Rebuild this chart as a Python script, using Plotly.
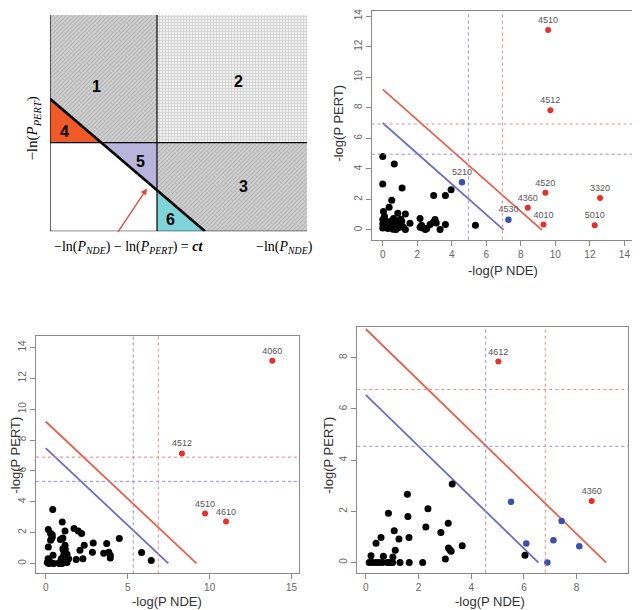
import plotly.graph_objects as go

# The page body has an 8px default margin, so the figure is drawn 8px smaller
# and all reference pixel positions are shifted by that offset.
OFF = 8
W, H = 640 - OFF, 610 - OFF

# ---------------- Panel B (top right) data ----------------
b_black_x = [0.0, 0.67, 0.0, 1.12, 0.52, 2.95, 3.63, 3.96, 0.37, 0.04, 0.87, 1.31,
             0.0, 0.0, 0.0, 0.23, 0.42, 0.62, 0.71, 0.77, 1.0, 1.2, 1.31, 1.58,
             2.16, 2.16, 2.32, 2.47, 2.74, 2.93, 3.03, 3.32, 3.63, 5.37,
             0.1, 0.05, 0.3, 0.55, 0.85, 0.95, 1.1, 0.6, 0.15, 2.25, 2.55, 3.1, 0.9, 1.05]
b_black_y = [4.81, 4.31, 3.0, 2.74, 1.94, 2.26, 2.26, 2.63, 1.48, 1.2, 1.09, 1.04,
             0.68, 0.39, 0.13, 0.45, 0.55, 0.74, 0.39, 0.02, 0.45, 0.18, 0.02, 0.43,
             0.74, 0.18, 0.13, 0.02, 0.35, 0.5, 0.68, 0.02, 0.35, 0.3,
             0.9, 0.25, 0.1, 0.2, 0.6, 0.3, 0.55, 0.05, 0.6, 0.3, 0.1, 0.45, 0.15, 0.7]
b_blue_x = [4.59, 7.28]
b_blue_y = [3.13, 0.67]
b_blue_lab = ["5210", "4530"]
b_red_x = [9.58, 9.71, 9.42, 8.40, 9.31, 12.59, 12.28]
b_red_y = [13.09, 7.83, 2.43, 1.46, 0.35, 2.09, 0.30]
b_red_lab = ["4510", "4512", "4520", "4360", "4010", "3320", "5010"]
b_vthr = {"blue": 4.96, "red": 6.93}
b_hthr = {"blue": 4.96, "red": 6.94}
b_diag = {"blue": 7.0, "red": 9.21}
b_xticks = [0, 2, 4, 6, 8, 10, 12, 14]
b_yticks = [0, 2, 4, 6, 8, 10, 12, 14]

# ---------------- Panel C (bottom left) data ----------------
c_black_x = [0.43, 1.01, 0.16, 1.73, 1.18, 1.99, 2.19, 0.30, 0.35, 0.30, 0.40,
             1.00, 0.90, 1.05, 4.49, 2.90, 3.72, 2.35, 1.18, 0.16, 2.09, 1.10,
             0.45, 2.85, 2.27, 1.86, 3.85, 3.94, 3.94, 3.54, 1.10, 1.30, 1.40,
             5.85, 6.44, 0.10, 0.20, 0.35, 0.50, 0.80, 1.00, 1.10, 1.30,
             0.25, 0.95, 1.20, 0.15, 0.40, 1.05, 0.85]
c_black_y = [3.49, 2.69, 2.19, 2.26, 2.10, 2.10, 1.94, 1.94, 1.60, 1.50, 1.70,
             1.60, 1.55, 1.65, 1.61, 1.33, 1.29, 1.18, 1.18, 1.07, 0.86, 0.82,
             0.52, 0.73, 0.30, 0.26, 0.73, 0.52, 0.35, 0.65, 0.52, 0.60, 0.30,
             0.71, 0.19, 0.05, 0.0, 0.02, 0.0, 0.03, 0.0, 0.08, 0.05,
             0.1, 0.3, 0.9, 0.3, 1.85, 0.95, 0.0]
c_red_x = [13.82, 8.31, 9.72, 11.0]
c_red_y = [13.14, 7.13, 3.23, 2.71]
c_red_lab = ["4060", "4512", "4510", "4610"]
c_vthr = {"blue": 5.34, "red": 6.87}
c_hthr = {"blue": 5.32, "red": 6.89}
c_diag = {"blue": 7.48, "red": 9.2}
c_xticks = [0, 5, 10, 15]
c_yticks = [0, 2, 4, 6, 8, 10, 12, 14]

# ---------------- Panel D (bottom right) data ----------------
d_black_x = [6.04, 3.28, 1.58, 2.36, 0.86, 1.60, 3.13, 2.28, 1.08, 2.85, 0.58,
             1.26, 1.64, 0.39, 3.66, 3.14, 3.19, 3.24, 1.12, 0.20, 0.67, 1.03,
             3.02, 0.13, 0.25, 0.38, 0.50, 0.63, 0.82, 0.92, 1.02, 1.30, 1.65, 2.16]
d_black_y = [0.29, 3.07, 2.67, 2.10, 1.93, 1.80, 1.54, 1.39, 1.24, 1.17, 0.98,
             0.92, 0.98, 0.75, 0.66, 0.57, 0.50, 0.44, 0.48, 0.27, 0.25, 0.22,
             0.14, 0.0, 0.0, 0.0, 0.0, 0.0, 0.0, 0.0, 0.0, 0.0, 0.0, 0.0]
d_blue_x = [5.51, 6.09, 6.89, 7.12, 7.43, 8.10]
d_blue_y = [2.37, 0.74, 0.0, 0.87, 1.62, 0.64]
d_red_x = [5.03, 8.57]
d_red_y = [7.85, 2.40]
d_red_lab = ["4612", "4360"]
d_vthr = {"blue": 4.55, "red": 6.81}
d_hthr = {"blue": 4.54, "red": 6.76}
d_diag = {"blue": 6.55, "red": 9.12}
d_xticks = [0, 2, 4, 6, 8]
d_yticks = [0, 2, 4, 6, 8]

# ---------------- Panel A (schematic) ----------------
# diagram units: box 0..257 wide, 0..217 high
a_vline = 107
a_hline = 89
a_diag_y0 = 133
a_diag_x0 = 155
a_cross_h = a_diag_x0 * (1 - a_hline / a_diag_y0)      # diag meets horizontal line
a_cross_v = a_diag_y0 * (1 - a_vline / a_diag_x0)      # diag meets vertical line
a_W, a_H = 257, 217

RED = "#e8302a"
BLUE = "#3b4fb0"
LRED = "#e8604c"
LBLUE = "#6c6cc8"
DRED = "#e88a84"
DBLUE = "#8f8fd8"
GRAY = "#8a8a8a"
FONT = "Liberation Sans"

fig = go.Figure()


def px(x):
    return (x - OFF) / W


def py(y):
    return 1 - (y - OFF) / H


def dom(px0, px1, py0, py1):
    return [px(px0), px(px1)], [py(py1), py(py0)]


panels = {
    "2": dict(px=(371.7, 635.3), py=(5, 238.3), xr=[-0.64, 14.63], yr=[-0.63, 14.6],
              xt=b_xticks, yt=b_yticks),
    "3": dict(px=(36, 299), py=(335, 573.3), xr=[-0.59, 15.45], yr=[-0.65, 14.75],
              xt=c_xticks, yt=c_yticks),
    "4": dict(px=(357.3, 628.3), py=(326, 572.7), xr=[-0.32, 9.96], yr=[-0.40, 9.2],
              xt=d_xticks, yt=d_yticks),
}

layout_axes = {}
for k, p in panels.items():
    y0px, y1px = p["py"][0], p["py"][1]
    yr = list(p["yr"])
    if y0px < OFF + 1:
        scale = (yr[1] - yr[0]) / (y1px - y0px)
        yr[1] = yr[1] - (OFF + 1 - y0px) * scale
        y0px = OFF + 1
    xd, yd = dom(p["px"][0], p["px"][1], y0px, y1px)
    xd = [max(0, xd[0]), min(1, xd[1])]
    common = dict(showgrid=False, zeroline=False, showline=True, linecolor=GRAY,
                  linewidth=1, mirror=True, ticks="outside", ticklen=5, tickcolor=GRAY,
                  ticklabeloverflow="allow",
                  tickfont=dict(family=FONT, size=10, color="#666"))
    layout_axes["xaxis" + k] = dict(domain=xd, range=p["xr"], anchor="y" + k,
                                    tickvals=p["xt"], **common)
    layout_axes["yaxis" + k] = dict(domain=yd, range=yr, anchor="x" + k,
                                    tickvals=p["yt"], tickangle=-90, **common)

shapes = []


def add_panel(k, blk, blue, red, vthr, hthr, diag):
    xa, ya = "x" + k, "y" + k
    # dashed threshold lines
    for col, c in (("blue", DBLUE), ("red", DRED)):
        shapes.append(dict(type="line", xref=xa, yref=ya + " domain", x0=vthr[col], x1=vthr[col],
                           y0=0, y1=1, line=dict(color=c, width=1, dash="dot")))
        shapes.append(dict(type="line", xref=xa + " domain", yref=ya, x0=0, x1=1,
                           y0=hthr[col], y1=hthr[col], line=dict(color=c, width=1, dash="dot")))
    # diagonals
    for col, c in (("blue", LBLUE), ("red", LRED)):
        fig.add_trace(go.Scatter(x=[0, diag[col]], y=[diag[col], 0], mode="lines",
                                 line=dict(color=c, width=1.8), xaxis=xa, yaxis=ya,
                                 hoverinfo="skip"))
    fig.add_trace(go.Scatter(x=blk[0], y=blk[1], mode="markers",
                             marker=dict(color="black", size=7), xaxis=xa, yaxis=ya))
    if blue is not None:
        fig.add_trace(go.Scatter(x=blue[0], y=blue[1], mode="markers+text" if blue[2] else "markers",
                                 text=blue[2], textposition="top center",
                                 textfont=dict(family=FONT, size=9, color="#555"),
                                 marker=dict(color=BLUE, size=6.5), xaxis=xa, yaxis=ya))
    fig.add_trace(go.Scatter(x=red[0], y=red[1], mode="markers+text", text=red[2],
                             textposition="top center",
                             textfont=dict(family=FONT, size=9, color="#555"),
                             marker=dict(color=RED, size=6), xaxis=xa, yaxis=ya))


add_panel("2", (b_black_x, b_black_y), (b_blue_x, b_blue_y, b_blue_lab),
          (b_red_x, b_red_y, b_red_lab), b_vthr, b_hthr, b_diag)
add_panel("3", (c_black_x, c_black_y), None,
          (c_red_x, c_red_y, c_red_lab), c_vthr, c_hthr, c_diag)
add_panel("4", (d_black_x, d_black_y), (d_blue_x, d_blue_y, None),
          (d_red_x, d_red_y, d_red_lab), d_vthr, d_hthr, d_diag)

# ---------------- schematic panel ----------------
hatch = dict(shape="/", fgcolor="#8a8a8a", bgcolor="#d0d0d0", size=3, solidity=0.3)
grid = dict(shape="+", fgcolor="#a8a8a8", bgcolor="#f0f0f0", size=3, solidity=0.4)
regions = [
    ([0, 0, a_vline, a_vline, a_cross_h], [a_diag_y0, a_H, a_H, a_hline, a_hline], hatch, None),
    ([a_vline, a_vline, a_W, a_W], [a_hline, a_H, a_H, a_hline], grid, None),
    ([a_vline, a_W, a_W, a_diag_x0, a_vline], [a_hline, a_hline, 0, 0, a_cross_v], hatch, None),
    ([0, 0, a_cross_h], [a_hline, a_diag_y0, a_hline], None, "#f05a28"),
    ([a_cross_h, a_vline, a_vline], [a_hline, a_hline, a_cross_v], None, "#b8b4dc"),
    ([a_vline, a_vline, a_diag_x0], [0, a_cross_v, 0], None, "#7ed4d8"),
]
for xs, ys, pat, col in regions:
    kw = dict(x=xs + [xs[0]], y=ys + [ys[0]], mode="lines", fill="toself",
              line=dict(width=0), xaxis="x", yaxis="y", hoverinfo="skip")
    if pat is not None:
        kw["fillpattern"] = pat
        kw["fillcolor"] = pat["bgcolor"]
    else:
        kw["fillcolor"] = col
    fig.add_trace(go.Scatter(**kw))

# diagram lines
for x0, y0, x1, y1, w in [
    (0, 0, 0, a_H, 1.2), (0, 0, a_W, 0, 1.2),
    (a_vline, 0, a_vline, a_H, 1.2), (0, a_hline, a_W, a_hline, 1.2),
    (0, a_diag_y0, a_diag_x0, 0, 2.6),
]:
    shapes.append(dict(type="line", xref="x", yref="y", x0=x0, y0=y0, x1=x1, y1=y1,
                       line=dict(color="black", width=w)))

xd, yd = dom(50, 307, 13, 230)
layout_axes["xaxis"] = dict(domain=xd, range=[0, a_W], visible=False, anchor="y")
layout_axes["yaxis"] = dict(domain=yd, range=[0, a_H], visible=False, anchor="x")

annotations = []
for txt, u, v in [("1", 46, 145), ("2", 188, 150), ("3", 193, 45), ("4", 15, 100),
                  ("5", 90, 70), ("6", 120, 12)]:
    annotations.append(dict(text="<b>%s</b>" % txt, x=u, y=v, xref="x", yref="y",
                            xanchor="center", yanchor="middle",
                            showarrow=False, font=dict(family=FONT, size=16, color="black")))

SER = "Liberation Serif"
C = dict(xref="paper", yref="paper", xanchor="center", yanchor="middle", showarrow=False)
annotations += [
    dict(text="\u2212ln(<i>P</i><sub><i>PERT</i></sub>)", x=px(33), y=py(127),
         textangle=-90, font=dict(family=SER, size=15, color="black"), **C),
    dict(text="\u2212ln(<i>P</i><sub><i>NDE</i></sub>) \u2212 ln(<i>P</i><sub><i>PERT</i></sub>) = <b><i>ct</i></b>",
         x=px(128), y=py(246), font=dict(family=SER, size=14, color="black"), **C),
    dict(text="\u2212ln(<i>P</i><sub><i>NDE</i></sub>)", x=px(284), y=py(246),
         font=dict(family=SER, size=14, color="black"), **C),
    dict(text="", x=97, y=43, xref="x", yref="y", ax=-30, ay=45, showarrow=True,
         arrowhead=2, arrowsize=1, arrowwidth=1.3, arrowcolor="#e2483a"),
]

# axis titles for scatter panels
TCOL = "#333"
for txt, x, y, ang in [
    ("-log(P NDE)", 503, 269, 0), ("-log(P PERT)", 339, 122, -90),
    ("-log(P NDE)", 167, 601, 0), ("-log(P PERT)", 16, 455, -90),
    ("-log(P NDE)", 490, 601, 0), ("-log(P PERT)", 329, 455, -90),
]:
    annotations.append(dict(text=txt, x=px(x), y=py(y), textangle=ang,
                            font=dict(family=FONT, size=13, color=TCOL), **C))

fig.update_layout(width=W, height=H, margin=dict(l=0, r=0, t=0, b=0),
                  paper_bgcolor="white", plot_bgcolor="white", showlegend=False,
                  shapes=shapes, annotations=annotations, **layout_axes)

fig.write_html("out.html")
